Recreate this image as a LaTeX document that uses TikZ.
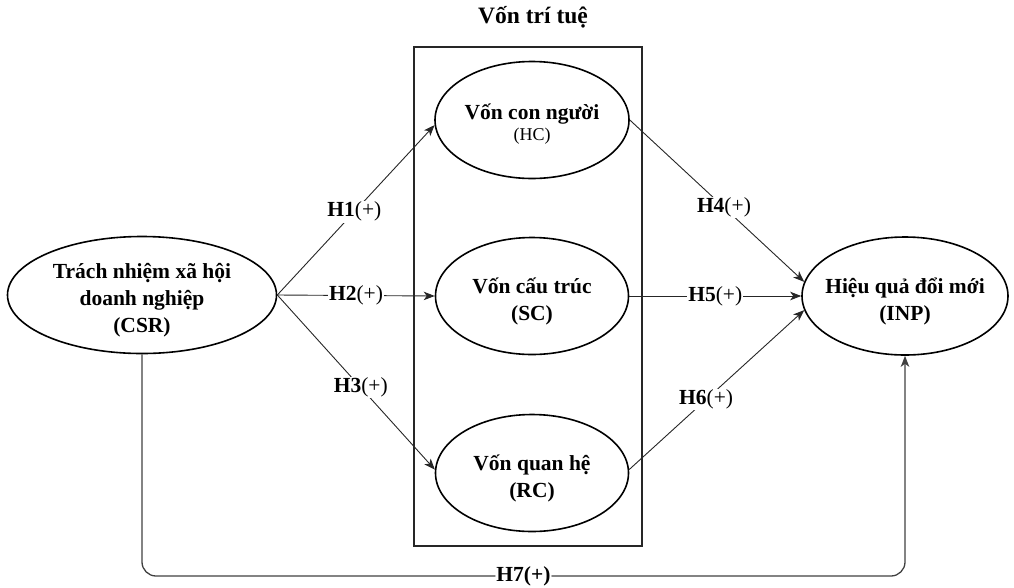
\documentclass[tikz,border=0pt]{standalone}
\usepackage{fontspec}
\setmainfont{Liberation Serif}
\usetikzlibrary{shapes.geometric,arrows.meta}

\tikzset{
  construct/.style={draw=black, line width=1.6pt, ellipse, inner sep=0pt},
  label text/.style={align=center, inner sep=0pt,
    font=\fontsize{21.5}{27}\selectfont\bfseries},
  link/.style={draw=black!85, line width=0.9pt,
    -{Stealth[length=11pt,width=8.5pt,inset=3pt]}},
  hyp/.style={fill=white, inner sep=1pt, font=\fontsize{21.5}{26}\selectfont},
  group/.style={draw=black!85, line width=1.1pt, inner sep=0pt},
}

\begin{document}
\begin{tikzpicture}[x=1pt, y=-1pt]
\useasboundingbox (0,0) rectangle (1014,587);

% intellectual capital group
\node[group, minimum width=228pt, minimum height=499pt] (box) at (528,296.5) {};
\node[font=\fontsize{23.5}{28}\selectfont\bfseries] (title) at (533,17) {Vốn trí tuệ};

% constructs
\node[construct, minimum width=269pt, minimum height=117pt] (CSR) at (142,295) {};
\node[construct, minimum width=194pt, minimum height=117pt] (HC) at (532,120) {};
\node[construct, minimum width=193pt, minimum height=117pt] (SC) at (532,296) {};
\node[construct, minimum width=193pt, minimum height=117pt] (RC) at (532,473) {};
\node[construct, minimum width=206pt, minimum height=118pt] (INP) at (905,296) {};

\node[label text] (CSRt) at ([yshift=-5pt]CSR.center)
  {Trách nhiệm xã hội\\doanh nghiệp\\(CSR)};
\node[label text] (HCt) at ([yshift=-4pt]HC.center)
  {Vốn con người\\[-6pt]{\fontsize{18}{22}\selectfont\mdseries (HC)}};
\node[label text] (SCt) at ([yshift=-5pt]SC.center) {Vốn cấu trúc\\(SC)};
\node[label text] (RCt) at ([yshift=-5pt]RC.center) {Vốn quan hệ\\(RC)};
\node[label text] (INPt) at ([yshift=-5pt]INP.center) {Hiệu quả đổi mới\\(INP)};

% hypotheses
\draw[link] (CSR.east) -- node[hyp, pos=0.49] {\textbf{H1}(+)} (HC.183);
\draw[link] (CSR.east) -- node[hyp] {\textbf{H2}(+)} (SC.west);
\draw[link] (CSR.east) -- node[hyp, pos=0.53] {\textbf{H3}(+)} (RC.178);
\draw[link] (HC.0) -- node[hyp, pos=0.54] {\textbf{H4}(+)} (INP.172);
\draw[link] (SC.east) -- node[hyp] {\textbf{H5}(+)} (INP.west);
\draw[link] (RC.2) -- node[hyp, pos=0.44] {\textbf{H6}(+)} (INP.188);

% direct effect
\draw[link, draw=black!75, line width=1.3pt, rounded corners=14pt]
  (CSR.south) -- (CSR.south |- 0,576)
  -- node[hyp] {\textbf{H7(+)}} (INP.south |- 0,576)
  -- (INP.south);
\end{tikzpicture}
\end{document}
